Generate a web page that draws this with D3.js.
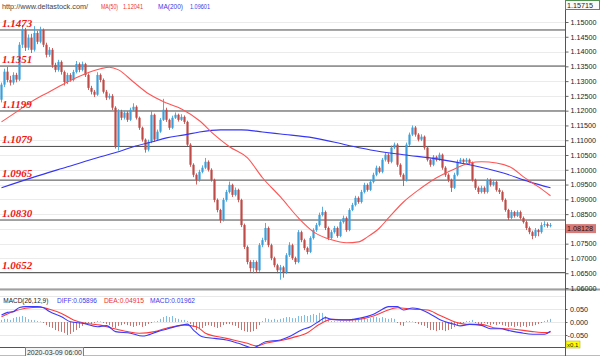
<!DOCTYPE html>
<html><head><meta charset="utf-8">
<script src="https://cdn.jsdelivr.net/npm/d3@7"></script>
<style>body{margin:0;background:#fff}svg{display:block}text{font-family:"Liberation Sans",Arial,sans-serif}</style>
</head><body><svg id="c" width="600" height="356"></svg>
<script>
const firstOpen = 1.1237;
const closes = [
1.1288,1.1332,1.1304,1.1295,1.1321,1.1305,1.1423,1.1473,1.1413,1.1447,
1.1406,1.1463,1.1433,1.1473,1.1423,1.1389,1.1406,1.1355,1.1338,1.1365,
1.1331,1.1297,1.1321,1.1304,1.1331,1.1358,1.1338,1.1358,1.1321,1.1277,
1.1264,1.1254,1.1321,1.1304,1.1264,1.1244,1.1250,1.1210,1.1078,1.1196,
1.1176,1.1193,1.1169,1.1203,1.1213,1.1176,1.1142,1.1102,1.1068,1.1095,
1.1186,1.1102,1.1129,1.1169,1.1203,1.1169,1.1142,1.1176,1.1186,1.1169,
1.1179,1.1162,1.1085,1.1017,1.0983,1.0966,1.0993,1.1007,1.1027,1.1000,
1.0966,1.0898,1.0864,1.0830,1.0898,1.0925,1.0949,1.0915,1.0932,1.0898,
1.0813,1.0739,1.0688,1.0667,1.0688,1.0660,1.0745,1.0762,1.0803,1.0745,
1.0701,1.0677,1.0660,1.0670,1.0653,1.0711,1.0745,1.0701,1.0688,1.0789,
1.0762,1.0735,1.0722,1.0769,1.0796,1.0813,1.0847,1.0857,1.0803,1.0769,
1.0789,1.0803,1.0776,1.0823,1.0837,1.0796,1.0864,1.0881,1.0905,1.0891,
1.0925,1.0949,1.0932,1.0959,1.0983,1.1007,1.0993,1.1034,1.1051,1.1027,
1.1075,1.1085,1.1017,1.0983,1.0966,1.1085,1.1119,1.1143,1.1119,1.1102,
1.1112,1.1075,1.1034,1.1017,1.1044,1.1034,1.1051,1.1007,1.0983,1.0966,
1.0939,1.0983,1.1027,1.1034,1.1027,1.1034,1.1024,1.0966,1.0939,1.0925,
1.0939,1.0925,1.0966,1.0949,1.0959,1.0932,1.0925,1.0898,1.0864,1.0837,
1.0857,1.0844,1.0857,1.0837,1.0823,1.0803,1.0789,1.0776,1.0796,1.0789,
1.0813,1.0816,1.0810,1.08128];
const highs = [
1.1295,1.1342,1.1348,1.1318,1.1330,1.1328,1.1432,1.1490,1.1480,1.1458,
1.1460,1.1486,1.1470,1.1484,1.1478,1.1430,1.1415,1.1412,1.1362,1.1372,
1.1370,1.1336,1.1328,1.1327,1.1338,1.1368,1.1363,1.1366,1.1362,1.1326,
1.1284,1.1270,1.1330,1.1326,1.1309,1.1270,1.1258,1.1256,1.1215,1.1205,
1.1203,1.1200,1.1198,1.1210,1.1225,1.1218,1.1180,1.1146,1.1106,1.1102,
1.1199,1.1190,1.1136,1.1175,1.1240,1.1210,1.1173,1.1183,1.1194,1.1190,
1.1188,1.1184,1.1166,1.1090,1.1022,1.0988,1.1000,1.1015,1.1040,1.1032,
1.1005,1.0970,1.0903,1.0868,1.0905,1.0932,1.0960,1.0953,1.0940,1.0936,
1.0902,1.0818,1.0744,1.0694,1.0695,1.0693,1.0752,1.0770,1.0820,1.0808,
1.0750,1.0706,1.0682,1.0678,1.0675,1.0718,1.0755,1.0750,1.0706,1.0796,
1.0794,1.0767,1.0740,1.0775,1.0802,1.0820,1.0855,1.0875,1.0862,1.0808,
1.0796,1.0810,1.0808,1.0830,1.0845,1.0842,1.0870,1.0888,1.0912,1.0910,
1.0932,1.0956,1.0954,1.0966,1.0990,1.1014,1.1012,1.1040,1.1058,1.1056,
1.1082,1.1092,1.1090,1.1022,1.0988,1.1092,1.1126,1.1150,1.1148,1.1124,
1.1120,1.1116,1.1080,1.1038,1.1050,1.1048,1.1058,1.1055,1.1012,1.0988,
1.0970,1.0990,1.1034,1.1040,1.1038,1.1040,1.1038,1.1028,1.0970,1.0944,
1.0946,1.0944,1.0972,1.0970,1.0966,1.0963,1.0938,1.0930,1.0903,1.0868,
1.0864,1.0861,1.0863,1.0862,1.0842,1.0828,1.0808,1.0794,1.0803,1.0800,
1.0822,1.0826,1.0822,1.0820];
const lows = [
1.1228,1.1280,1.1296,1.1285,1.1288,1.1296,1.1300,1.1412,1.1402,1.1405,
1.1395,1.1400,1.1425,1.1428,1.1415,1.1380,1.1382,1.1345,1.1330,1.1332,
1.1322,1.1285,1.1290,1.1298,1.1299,1.1326,1.1330,1.1333,1.1314,1.1270,
1.1255,1.1246,1.1250,1.1296,1.1258,1.1236,1.1238,1.1202,1.1072,1.1065,
1.1168,1.1170,1.1162,1.1165,1.1198,1.1170,1.1135,1.1095,1.1058,1.1062,
1.1090,1.1095,1.1098,1.1125,1.1165,1.1162,1.1135,1.1138,1.1172,1.1163,
1.1165,1.1155,1.1080,1.1010,1.0975,1.0950,1.0960,1.0988,1.1002,1.0994,
1.0960,1.0890,1.0856,1.0820,1.0825,1.0892,1.0920,1.0908,1.0910,1.0890,
1.0806,1.0732,1.0680,1.0655,1.0650,1.0652,1.0655,1.0738,1.0756,1.0738,
1.0694,1.0670,1.0650,1.0628,1.0635,1.0648,1.0705,1.0695,1.0680,1.0684,
1.0755,1.0728,1.0714,1.0718,1.0764,1.0790,1.0808,1.0842,1.0796,1.0762,
1.0764,1.0784,1.0770,1.0772,1.0818,1.0790,1.0792,1.0860,1.0876,1.0885,
1.0886,1.0920,1.0926,1.0928,1.0954,1.0978,1.0988,1.0988,1.1028,1.1020,
1.1022,1.1070,1.1010,1.0976,1.0945,1.0960,1.1080,1.1114,1.1112,1.1096,
1.1097,1.1068,1.1028,1.1010,1.1012,1.1028,1.1030,1.1000,1.0976,1.0958,
1.0925,1.0935,1.0978,1.1022,1.1022,1.1022,1.1018,1.0960,1.0932,1.0918,
1.0920,1.0919,1.0920,1.0943,1.0944,1.0926,1.0918,1.0892,1.0858,1.0830,
1.0832,1.0838,1.0840,1.0832,1.0818,1.0796,1.0782,1.0765,1.0770,1.0775,
1.0784,1.0806,1.0804,1.0805];

const ma50Idx = [0,5,11,16,22,27,33,36,39,44,49,55,60,66,71,76,82,87,93,99,104,110,115,119,122,126,129,134,140,145,151,156,160,165,170,174,179,183];
const ma50Val = [1.1162,1.1196,1.1237,1.1264,1.1297,1.1321,1.1342,1.1347,1.1338,1.1297,1.1257,1.1226,1.1206,1.1166,1.1118,1.1078,1.1040,1.0973,1.0908,1.0837,1.0790,1.0763,1.0753,1.0756,1.0773,1.0803,1.0837,1.0891,1.0939,1.0973,1.1003,1.1023,1.1027,1.1023,1.1007,1.0976,1.0942,1.0912];
const ma200Idx = [0,11,22,33,39,44,50,55,61,66,73,80,87,93,104,115,123,134,145,156,167,176,183];
const ma200Val = [1.0939,1.0976,1.1010,1.1044,1.1061,1.1078,1.1094,1.1108,1.1118,1.1128,1.1135,1.1135,1.1128,1.1121,1.1108,1.1084,1.1067,1.1051,1.1037,1.1017,1.0990,1.0959,1.0939];

const diffIdx = [0,2,4,6,8,12,14,16,20,23,27,32,35,38,43,47,52,56,60,62,64,67,71,75,79,84,86,88,93,96,100,103,106,108,110,115,119,124,126,129,132,134,137,139,143,146,151,153,156,160,163,166,170,173,177,181,183];
const diffVal = [0.027,0.037,0.040,0.056,0.059,0.059,0.055,0.040,0.020,0.001,-0.005,-0.018,-0.014,-0.037,-0.043,-0.054,-0.037,-0.024,-0.012,-0.008,-0.031,-0.057,-0.063,-0.069,-0.082,-0.099,-0.088,-0.076,-0.069,-0.056,-0.031,-0.018,0.004,0.017,0.010,0.008,0.014,0.030,0.042,0.059,0.059,0.046,0.054,0.051,0.030,0.010,-0.009,-0.015,-0.009,-0.013,-0.026,-0.026,-0.035,-0.041,-0.047,-0.047,-0.035];
const deaIdx = [0,4,8,13,16,20,24,28,33,37,42,46,51,55,61,65,68,75,82,85,88,94,97,102,106,110,115,119,124,128,132,137,142,146,152,155,160,164,171,177,182,183];
const deaVal = [0.020,0.040,0.053,0.057,0.049,0.033,0.008,-0.005,-0.012,-0.024,-0.037,-0.043,-0.037,-0.024,-0.012,-0.018,-0.043,-0.063,-0.082,-0.092,-0.082,-0.069,-0.060,-0.041,-0.009,0.010,0.008,0.010,0.023,0.042,0.055,0.049,0.046,0.026,-0.003,-0.009,-0.009,-0.022,-0.028,-0.037,-0.041,-0.038];
const histVal = [
0.008,0.012,0.012,0.008,0.015,0.019,0.020,0.023,0.019,0.011,
0.008,0.007,0.004,0.002,-0.004,-0.012,-0.019,-0.023,-0.031,-0.035,
-0.038,-0.042,-0.050,-0.046,-0.038,-0.031,-0.023,-0.015,-0.008,-0.004,
-0.008,-0.004,0.004,0.002,-0.004,-0.008,-0.012,-0.019,-0.023,-0.015,
-0.012,-0.008,-0.012,-0.015,-0.019,-0.015,-0.012,-0.019,-0.015,-0.008,
-0.004,0.002,0.004,0.012,0.019,0.023,0.019,0.023,0.015,0.012,
0.008,0.008,0.004,-0.008,-0.019,-0.031,-0.027,-0.023,-0.015,-0.012,
-0.015,-0.019,-0.023,-0.019,-0.012,-0.008,-0.008,-0.012,-0.015,-0.023,
-0.031,-0.035,-0.038,-0.038,-0.035,-0.027,-0.012,0.004,0.015,0.012,
0.008,0.012,0.008,0.012,0.015,0.019,0.019,0.015,0.015,0.023,
0.023,0.027,0.023,0.027,0.031,0.027,0.035,0.035,0.023,0.012,
0.004,0.004,0.002,0.004,0.004,0.004,0.008,0.012,0.012,0.012,
0.015,0.015,0.012,0.015,0.019,0.019,0.015,0.019,0.015,0.012,
0.015,0.012,-0.004,-0.012,-0.015,0.004,0.004,0.002,-0.004,-0.008,
-0.012,-0.015,-0.023,-0.031,-0.031,-0.035,-0.031,-0.031,-0.035,-0.031,
-0.027,-0.019,-0.012,-0.008,-0.004,0.004,0.004,0.008,-0.004,-0.008,
-0.008,-0.004,-0.008,-0.012,-0.008,-0.012,-0.008,-0.012,-0.015,-0.019,
-0.015,-0.019,-0.015,-0.019,-0.015,-0.019,-0.015,-0.015,-0.012,-0.008,
-0.004,0.004,0.008,0.012];

const levels = [1.1473,1.1351,1.1199,1.1079,1.0965,1.0830,1.0652];
const levelLabels = ["1.1473","1.1351","1.1199","1.1079","1.0965","1.0830","1.0652"];
const priceTicks = [1.060,1.065,1.070,1.075,1.080,1.085,1.090,1.095,1.100,1.105,1.110,1.115,1.120,1.125,1.130,1.135,1.140,1.145,1.150];
const macdTicks = [0.05,0,-0.05];
const macdGrid = [0.1,0.05,0,-0.05];
const topPrice = 1.15715;
const lastPrice = 1.08128;
const siteText = "http://www.deltastock.com/";
const maLegend = [["MA(50)","1.12041"],["MA(200)","1.09601"]];
const macdLegend = ["MACD(26,12,9)","DIFF:0.05896","DEA:0.04915","MACD:0.01962"];
const cursorDate = "2020-03-09 06:00";

const UP="#3d9fd9", DN="#bf4b48";
const svg = d3.select("#c");
const N = closes.length;
const opens = closes.map((c,i)=> i===0 ? firstOpen : closes[i-1]);
const x = d3.scaleLinear().domain([0,N-1]).range([1.5,550.5]);
const y = d3.scaleLinear().domain([1.06,1.15]).range([288,22]);
const ym = d3.scaleLinear().domain([-0.05,0.05]).range([335,309]);
const AX = 565.5;

svg.append("defs").append("clipPath").attr("id","mc").append("rect").attr("x",0).attr("y",0).attr("width",565).attr("height",289);
svg.append("defs").append("clipPath").attr("id","mm").append("rect").attr("x",0).attr("y",291).attr("width",565).attr("height",57);

// grid main
svg.append("g").selectAll("line").data(priceTicks).join("line")
 .attr("x1",0).attr("x2",565).attr("y1",d=>Math.round(y(d))+0.5).attr("y2",d=>Math.round(y(d))+0.5)
 .attr("stroke","#ebebeb");
// level lines
svg.append("g").selectAll("line").data(levels).join("line")
 .attr("x1",0).attr("x2",565).attr("y1",d=>y(d)).attr("y2",d=>y(d))
 .attr("stroke","#4a4a4a").attr("stroke-width",1);

const main = svg.append("g").attr("clip-path","url(#mc)");
const cd = d3.range(N);
main.append("g").selectAll("line").data(cd).join("line")
 .attr("x1",i=>x(i)).attr("x2",i=>x(i)).attr("y1",i=>y(highs[i])).attr("y2",i=>y(lows[i]))
 .attr("stroke",i=>closes[i]>=opens[i]?UP:DN).attr("stroke-width",1).attr("opacity",0.85);
main.append("g").selectAll("rect").data(cd).join("rect")
 .attr("x",i=>x(i)-1.1).attr("width",2.2)
 .attr("y",i=>y(Math.max(opens[i],closes[i])))
 .attr("height",i=>Math.max(1,Math.abs(y(opens[i])-y(closes[i]))))
 .attr("fill",i=>closes[i]>=opens[i]?UP:DN);

const ln = d3.line().x(d=>x(d[0])).curve(d3.curveMonotoneX);
main.append("path").datum(d3.zip(ma200Idx,ma200Val)).attr("d",ln.y(d=>y(d[1])))
 .attr("fill","none").attr("stroke","#3535f5").attr("stroke-width",1.1);
main.append("path").datum(d3.zip(ma50Idx,ma50Val)).attr("d",ln.y(d=>y(d[1])))
 .attr("fill","none").attr("stroke","#ff5555").attr("stroke-width",1.1);

// level labels
svg.append("g").selectAll("text").data(levels).join("text")
 .attr("x",2).attr("y",d=>y(d)-3.3).text((d,i)=>levelLabels[i])
 .style("font-family","'Liberation Serif',serif").style("font-weight","bold").style("font-style","italic")
 .style("font-size","11px").attr("fill","#f01818");

// separator
svg.append("rect").attr("x",0).attr("y",288.5).attr("width",600).attr("height",2).attr("fill","#a0a0a0");

// MACD grid
svg.append("g").selectAll("line").data(macdGrid).join("line")
 .attr("x1",0).attr("x2",565).attr("y1",d=>Math.round(ym(d))+0.5).attr("y2",d=>Math.round(ym(d))+0.5)
 .attr("stroke","#e8e8e8");
const mg = svg.append("g").attr("clip-path","url(#mm)");
mg.append("g").selectAll("line").data(cd).join("line")
 .attr("x1",i=>x(i)).attr("x2",i=>x(i)).attr("y1",ym(0)).attr("y2",i=>ym(histVal[i]))
 .attr("stroke",i=>histVal[i]>=0?"#7dbde3":"#c77370").attr("stroke-width",1);
const ml = d3.line().x(d=>x(d[0])).y(d=>ym(d[1])).curve(d3.curveMonotoneX);
mg.append("path").datum(d3.zip(deaIdx,deaVal)).attr("d",ml).attr("fill","none").attr("stroke","#ff3a3a").attr("stroke-width",1.1);
mg.append("path").datum(d3.zip(diffIdx,diffVal)).attr("d",ml).attr("fill","none").attr("stroke","#3a3aff").attr("stroke-width",1.1);

// bottom lines
svg.append("line").attr("x1",0).attr("x2",566).attr("y1",347.5).attr("y2",347.5).attr("stroke","#555");
svg.append("line").attr("x1",0).attr("x2",600).attr("y1",355.5).attr("y2",355.5).attr("stroke","#bbb");

// axes (tick labels hidden behind the current-price box are dropped, as in the reference)
const visibleTicks = priceTicks.filter(t => Math.abs(y(t) - (y(lastPrice)+3.5)) > 8);
const ga = svg.append("g").attr("transform",`translate(${AX},0)`)
 .call(d3.axisRight(y).tickValues(priceTicks).tickFormat(d=>visibleTicks.includes(d)?d.toFixed(5):"").tickSize(3).tickSizeOuter(0).tickPadding(2));
ga.select(".domain").remove();
ga.selectAll("text").filter(function(){return this.textContent==="";}).remove();
ga.selectAll("text").style("font-size","7.2px").attr("fill","#222");
ga.selectAll("line").attr("stroke","#666");
const gm = svg.append("g").attr("transform",`translate(${AX},0)`)
 .call(d3.axisRight(ym).tickValues(macdTicks).tickFormat(d=>d.toFixed(3)).tickSize(2).tickSizeOuter(0).tickPadding(20));
gm.select(".domain").remove();
gm.selectAll("text").style("font-size","7.2px").attr("fill","#222").attr("text-anchor","end").attr("x",22.5);
gm.selectAll("line").attr("stroke","#666");
svg.append("line").attr("x1",AX).attr("x2",AX).attr("y1",0).attr("y2",356).attr("stroke","#555");

// top price box
svg.append("rect").attr("x",565.5).attr("y",0.5).attr("width",34).attr("height",9).attr("fill","#fafafa").attr("stroke","#4f8f4f");
svg.append("text").attr("x",567).attr("y",7.6).text(topPrice.toFixed(5)).style("font-size","7.2px").attr("fill","#222");
// last price box
svg.append("rect").attr("x",566).attr("y",y(lastPrice)-1).attr("width",30).attr("height",9).attr("fill","#d97a76");
svg.append("text").attr("x",567).attr("y",y(lastPrice)+6).text(lastPrice.toFixed(5)).style("font-size","7.2px").attr("fill","#2a1010");
// x0.1 box
svg.append("rect").attr("x",566).attr("y",341).attr("width",14).attr("height",7).attr("fill","#ffff00").attr("stroke","#b0a000").attr("stroke-width",0.5);
svg.append("text").attr("x",567).attr("y",347).text("x0.1").style("font-size","6px").attr("fill","#222");

// date box
svg.append("rect").attr("x",25.5).attr("y",347.5).attr("width",58).attr("height",9).attr("fill","#f4f4f4").attr("stroke","#5a9a5a");
svg.append("text").attr("x",27).attr("y",355).text(cursorDate).attr("textLength",55).attr("lengthAdjust","spacingAndGlyphs").style("font-size","7px").attr("fill","#333");

// top legend
const lg = svg.append("g").style("font-size","7px");
lg.append("text").attr("x",2).attr("y",8.5).text(siteText).attr("textLength",86).attr("lengthAdjust","spacingAndGlyphs").attr("fill","#444");
const lpos = [[101,17,123,20,"#ee3030"],[158,25,190,20,"#3a3ae8"]];
maLegend.forEach((m,i)=>{
  const p=lpos[i];
  lg.append("text").attr("x",p[0]).attr("y",8.5).text(m[0]).attr("textLength",p[1]).attr("lengthAdjust","spacingAndGlyphs").attr("fill",p[4]);
  lg.append("text").attr("x",p[2]).attr("y",8.5).text(m[1]).attr("textLength",p[3]).attr("lengthAdjust","spacingAndGlyphs").attr("fill",p[4]);
});
// MACD legend
const mpos = [[3.3,45,"#222"],[57,40,"#3a3aee"],[104,40,"#ee3030"],[150,45,"#3a3aee"]];
svg.append("g").style("font-size","7px").selectAll("text").data(macdLegend).join("text")
 .attr("x",(d,i)=>mpos[i][0]).attr("y",303.2).text(d=>d)
 .attr("textLength",(d,i)=>mpos[i][1]).attr("lengthAdjust","spacingAndGlyphs").attr("fill",(d,i)=>mpos[i][2]);
</script></body></html>
